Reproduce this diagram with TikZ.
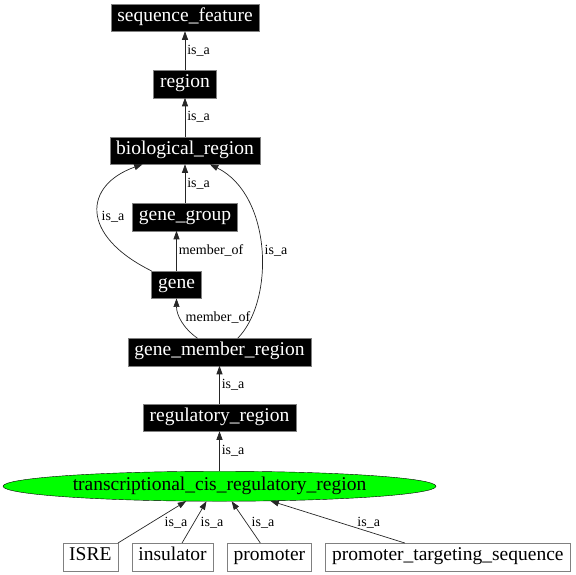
\documentclass[tikz,border=0pt]{standalone}
\usepackage{fontspec}
\setmainfont{Liberation Serif}
\usetikzlibrary{arrows.meta,calc,positioning,shapes.geometric}
\newdimen\hdim
\newdimen\gdim
\hdim=27.5pt
\gdim=39pt
\tikzstyle{term}=[
  draw=black!50,
  fill=black,
  text=white,
  font={\fontsize{19.5}{22}\selectfont},
  inner xsep=6.5pt,
  inner ysep=5pt,
  minimum height=\hdim,
  text height=12.5pt,
  text depth=5pt,
  outer sep=0pt,
  rectangle,
]
\tikzstyle{leaf}=[
  term,
  fill=white,
  text=black,
  minimum height=28pt,
]
\tikzstyle{focus}=[
  draw=black,
  fill=green,
  ellipse,
  font={\fontsize{19.5}{22}\selectfont},
  inner sep=0pt,
  minimum width=433pt,
  minimum height=30pt,
  outer sep=0pt,
]
\tikzstyle{arrow}=[
  draw=black!85,
  line width=.7pt,
]
\tikzstyle{arrowlabel}=[
  font={\fontsize{14}{16}\selectfont},
  inner sep=2pt,
]
\tikzset{
  node distance=\gdim,
  >={Triangle[length=8.5pt,width=6pt]},
}
\begin{document}
\begin{tikzpicture}[x=1pt,y=-1pt]
    \useasboundingbox (0,0) rectangle (576,574);
    %%
    \node (bio) [term] at (185,150.5) {biological\_region};
    \node (region) [term, above=of bio] {region};
    \node (seqf) [term, above=of region] {sequence\_feature};
    \node (genegroup) [term, below=of bio] {gene\_group};
    \node (gene) [term] at (176.5,284.7) {gene};
    %%
    \node (gmr) [term] at (219.5,352) {gene\_member\_region};
    \node (reg) [term, below=38pt of gmr] {regulatory\_region};
    \node (tcrr) [focus, below=40pt of reg] {transcriptional\_cis\_regulatory\_region};
    %%
    \node (isre) [leaf, anchor=west] at (62.7,557) {ISRE};
    \node (insulator) [leaf, right=14pt of isre] {insulator};
    \node (promoter) [leaf, right=14pt of insulator] {promoter};
    \node (pts) [leaf, right=14pt of promoter] {promoter\_targeting\_sequence};
    %%
    \draw [->, arrow] (region) -- node [arrowlabel, right] {is\_a} (seqf);
    \draw [->, arrow] (bio) -- node [arrowlabel, right] {is\_a} (region);
    \draw [->, arrow] (genegroup) -- node [arrowlabel, right] {is\_a} (bio);
    \draw [->, arrow] (gene.north) -- node [arrowlabel, right] {member\_of}
                      (gene.north |- genegroup.south);
    \draw [->, arrow] (gene.north west) .. controls (79,235) and (84,185) .. (bio.198)
                      node [arrowlabel] at (113,216.7) {is\_a};
    \draw [->, arrow] (gmr.148) .. controls (183,328) and (176.5,315) .. (gene.south)
                      node [arrowlabel] at (218,317) {member\_of};
    \draw [->, arrow] (gmr.37) .. controls (275,300) and (272,195) .. (bio.331)
                      node [arrowlabel] at (276,250.7) {is\_a};
    \draw [->, arrow] (reg) -- node [arrowlabel, right] {is\_a} (gmr);
    \draw [->, arrow] (tcrr) -- node [arrowlabel, right] {is\_a} (reg);
    %%
    \draw [->, arrow] (isre.north east) -- (tcrr.204)
                      node [arrowlabel] at (176,523) {is\_a};
    \draw [->, arrow] (insulator.56) -- (tcrr.229)
                      node [arrowlabel] at (212,523) {is\_a};
    \draw [->, arrow] (promoter.123) -- (tcrr.309)
                      node [arrowlabel] at (263,523) {is\_a};
    \draw [->, arrow] (pts.162) -- (tcrr.344)
                      node [arrowlabel] at (368.7,523) {is\_a};
\end{tikzpicture}
\end{document}
